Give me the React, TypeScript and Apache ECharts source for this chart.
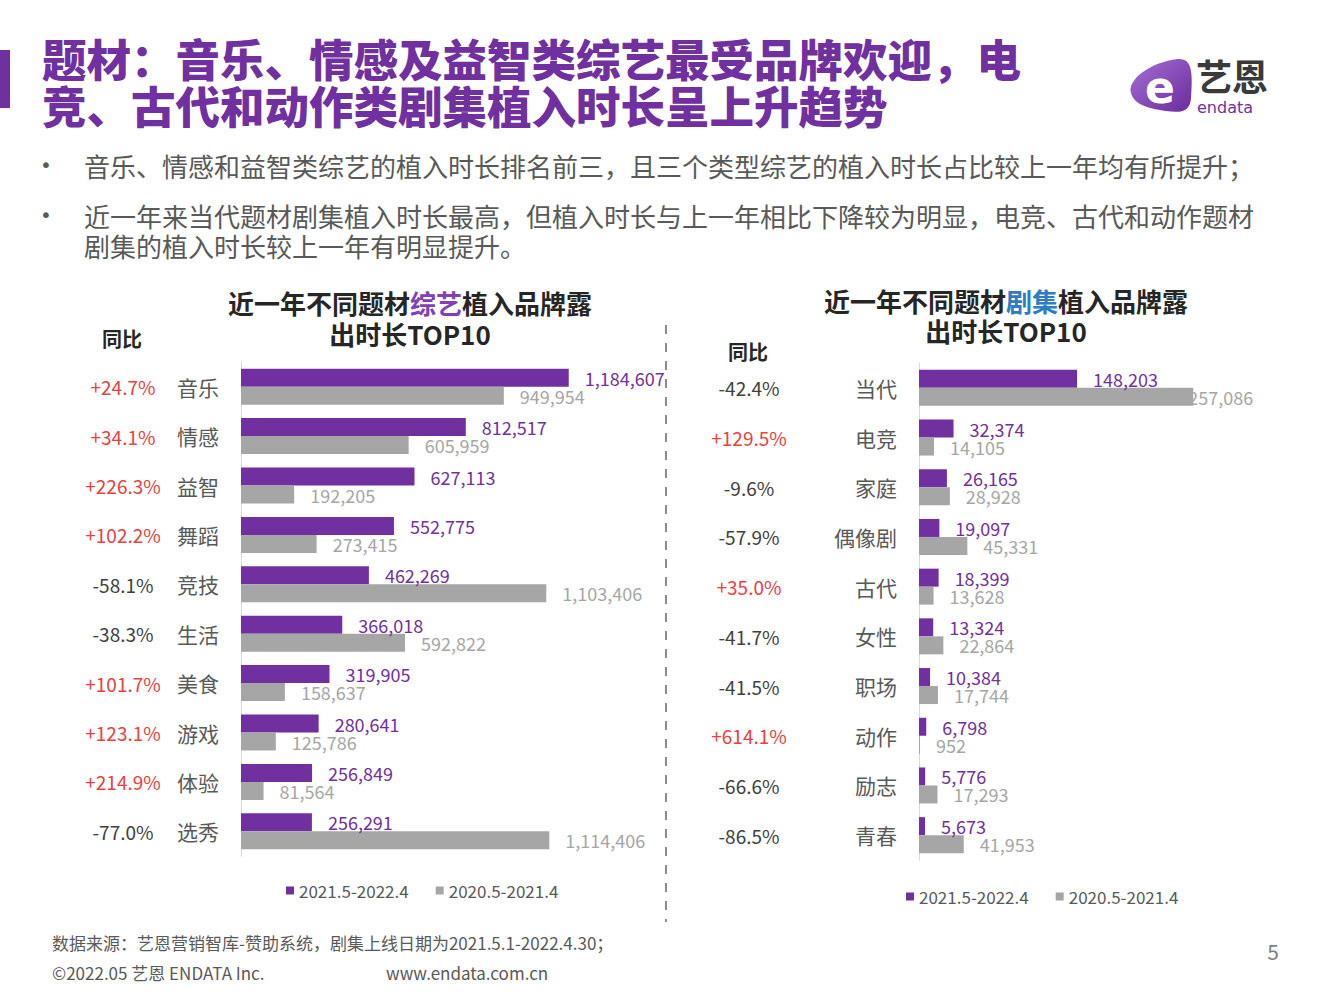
import React, { useEffect, useRef } from "react";
import * as echarts from "echarts";

const FONT = "'Noto Sans CJK SC', 'Noto Sans', sans-serif";
const PURPLE = "#7030a0";
const GRAY = "#a6a6a6";
const TEXT = "#595959";

const seriesNames = ["2021.5-2022.4", "2020.5-2021.4"];

const varietyCats = ["音乐", "情感", "益智", "舞蹈", "竞技", "生活", "美食", "游戏", "体验", "选秀"];
const varietyCur = [1184607, 812517, 627113, 552775, 462269, 366018, 319905, 280641, 256849, 256291];
const varietyPrev = [949954, 605959, 192205, 273415, 1103406, 592822, 158637, 125786, 81564, 1114406];
const varietyYoy = ["+24.7%", "+34.1%", "+226.3%", "+102.2%", "-58.1%", "-38.3%", "+101.7%", "+123.1%", "+214.9%", "-77.0%"];

const dramaCats = ["当代", "电竞", "家庭", "偶像剧", "古代", "女性", "职场", "动作", "励志", "青春"];
const dramaCur = [148203, 32374, 26165, 19097, 18399, 13324, 10384, 6798, 5776, 5673];
const dramaPrev = [257086, 14105, 28928, 45331, 13628, 22864, 17744, 952, 17293, 41953];
const dramaYoy = ["-42.4%", "+129.5%", "-9.6%", "-57.9%", "+35.0%", "-41.7%", "-41.5%", "+614.1%", "-66.6%", "-86.5%"];

const fmt = (v: number) => v.toLocaleString("en-US");

const logoPath =
  "M1131 93 C1127 80 1150 62 1178 59 C1192 58 1193 72 1191 98 C1190 112 1181 113 1166 111 C1146 108 1134 104 1131 93 Z";

export default function App() {
  const ref = useRef<HTMLDivElement>(null);
  useEffect(() => {
    if (!ref.current) return;
    echarts.graphic.registerShape("logo", echarts.graphic.extendPath(logoPath, {}));
    const chart = echarts.init(ref.current, null, { renderer: "svg" });

    const namesAxis = (gridIndex: number, data: string[]) => ({
      gridIndex,
      type: "category",
      data,
      inverse: true,
      position: "left",
      axisLine: { show: true, lineStyle: { color: "#d9d9d9", width: 1 } },
      axisTick: { show: false },
      splitLine: { show: false },
      axisLabel: { margin: 22, fontSize: 21, color: TEXT, fontFamily: FONT },
    });
    const yoyAxis = (gridIndex: number, data: string[], margin: number) => ({
      gridIndex,
      type: "category",
      data,
      inverse: true,
      position: "left",
      axisLine: { show: false },
      axisTick: { show: false },
      splitLine: { show: false },
      axisLabel: {
        margin,
        align: "center",
        formatter: (v: string) => (v.charAt(0) === "+" ? `{r|${v}}` : `{k|${v}}`),
        rich: {
          r: { color: "#e8413e", fontSize: 19, fontFamily: FONT },
          k: { color: "#404040", fontSize: 19, fontFamily: FONT },
        },
      },
    });
    const barSeries = (name: string, xi: number, yi: number, data: any[], color: string) => ({
      name,
      type: "bar",
      xAxisIndex: xi,
      yAxisIndex: yi,
      data,
      barWidth: 18,
      barGap: "0%",
      itemStyle: { color },
      label: {
        show: true,
        position: "right",
        distance: 16,
        color: color === PURPLE ? PURPLE : GRAY,
        fontSize: 18,
        lineHeight: 17,
        fontFamily: FONT,
        formatter: (p: any) => fmt(p.value),
      },
    });
    const legend = (left: number, top: number) => ({
      left,
      top,
      padding: 0,
      itemWidth: 8,
      itemHeight: 8,
      itemGap: 27,
      icon: "rect",
      selectedMode: false,
      data: seriesNames,
      textStyle: { color: TEXT, fontSize: 17, fontFamily: FONT },
    });

    const txt = (x: number, y: number, text: string, style: any) => ({
      type: "text",
      x,
      y,
      style: { text, fontFamily: FONT, textVerticalAlign: "middle", ...style },
    });

    const option: any = {
      animation: false,
      backgroundColor: "#ffffff",
      textStyle: { fontFamily: FONT },
      legend: [legend(286, 882), legend(906, 888)],
      grid: [
        { left: 241, top: 362, width: 415, height: 494 },
        { left: 919, top: 363, width: 320, height: 497 },
      ],
      xAxis: [
        { gridIndex: 0, type: "value", min: 0, max: 1500000, show: false, splitLine: { show: false } },
        { gridIndex: 1, type: "value", min: 0, max: 300000, show: false, splitLine: { show: false } },
      ],
      yAxis: [
        namesAxis(0, varietyCats),
        yoyAxis(0, varietyYoy, 118),
        namesAxis(1, dramaCats),
        yoyAxis(1, dramaYoy, 170),
      ],
      series: [
        barSeries(seriesNames[0], 0, 0, varietyCur, PURPLE),
        barSeries(seriesNames[1], 0, 0, varietyPrev, GRAY),
        barSeries(seriesNames[0], 1, 2, dramaCur, PURPLE),
        barSeries(
          seriesNames[1],
          1,
          2,
          dramaPrev.map((v, i) => (i === 0 ? { value: v, label: { distance: -5 } } : v)),
          GRAY
        ),
      ],
      graphic: [
        // left accent bar
        { type: "rect", shape: { x: 0, y: 50, width: 10, height: 58 }, style: { fill: PURPLE } },
        txt(42, 57, "题材：音乐、情感及益智类综艺最受品牌欢迎，电", {
          fontSize: 44.5, fontWeight: 900, fill: PURPLE,
        }),
        txt(42, 104, "竞、古代和动作类剧集植入时长呈上升趋势", {
          fontSize: 44.5, fontWeight: 900, fill: PURPLE,
        }),
        // logo
        {
          type: "logo",
          x: 0,
          y: 0,
          style: {
            fill: {
              type: "linear", x: 0, y: 0, x2: 1, y2: 1,
              colorStops: [
                { offset: 0, color: "#a66fd6" },
                { offset: 1, color: "#6a2c9c" },
              ],
            },
          },
        },
        txt(1160, 87, "e", {
          fontSize: 44, fontWeight: "bold", fill: "#ffffff", textAlign: "center",
          fontFamily: "'DejaVu Sans', sans-serif",
        }),
        txt(1196, 75, "艺恩", { fontSize: 36, fontWeight: "bold", fill: "#3a3a3a" }),
        txt(1197, 107, "endata", {
          fontSize: 16, fill: PURPLE, fontFamily: "'DejaVu Sans', sans-serif",
        }),
        // bullets
        txt(40, 165, "•", { fontSize: 20, fill: TEXT, fontFamily: "'DejaVu Sans', sans-serif" }),
        txt(84, 165, "音乐、情感和益智类综艺的植入时长排名前三，且三个类型综艺的植入时长占比较上一年均有所提升；", {
          fontSize: 26, fill: TEXT,
        }),
        txt(40, 215, "•", { fontSize: 20, fill: TEXT, fontFamily: "'DejaVu Sans', sans-serif" }),
        txt(84, 215, "近一年来当代题材剧集植入时长最高，但植入时长与上一年相比下降较为明显，电竞、古代和动作题材", {
          fontSize: 26, fill: TEXT,
        }),
        txt(84, 245, "剧集的植入时长较上一年有明显提升。", { fontSize: 26, fill: TEXT }),
        // chart titles
        {
          type: "text",
          x: 410,
          y: 302,
          style: {
            text: "{b|近一年不同题材}{p|综艺}{b|植入品牌露}",
            textAlign: "center",
            textVerticalAlign: "middle",
            rich: {
              b: { fontSize: 26, fontWeight: "bold", fill: "#262626", fontFamily: FONT },
              p: { fontSize: 26, fontWeight: "bold", fill: "#8040b8", fontFamily: FONT },
            },
          },
        },
        txt(410, 333, "出时长TOP10", { fontSize: 26, fontWeight: "bold", fill: "#262626", textAlign: "center" }),
        {
          type: "text",
          x: 1006,
          y: 300,
          style: {
            text: "{b|近一年不同题材}{p|剧集}{b|植入品牌露}",
            textAlign: "center",
            textVerticalAlign: "middle",
            rich: {
              b: { fontSize: 26, fontWeight: "bold", fill: "#262626", fontFamily: FONT },
              p: { fontSize: 26, fontWeight: "bold", fill: "#2e7cc4", fontFamily: FONT },
            },
          },
        },
        txt(1006, 330, "出时长TOP10", { fontSize: 26, fontWeight: "bold", fill: "#262626", textAlign: "center" }),
        txt(122, 338, "同比", { fontSize: 20, fontWeight: "bold", fill: "#262626", textAlign: "center" }),
        txt(748, 351, "同比", { fontSize: 20, fontWeight: "bold", fill: "#262626", textAlign: "center" }),
        // divider
        {
          type: "line",
          shape: { x1: 666, y1: 325, x2: 666, y2: 922 },
          style: { stroke: "#8c8c8c", lineWidth: 2, lineDash: [9, 9] },
        },
        // footer
        txt(52, 942, "数据来源：艺恩营销智库-赞助系统，剧集上线日期为2021.5.1-2022.4.30；", {
          fontSize: 17, fill: TEXT,
        }),
        txt(52, 972, "©2022.05 艺恩 ENDATA Inc.", { fontSize: 17, fill: TEXT }),
        txt(386, 972, "www.endata.com.cn", { fontSize: 17, fill: TEXT }),
        txt(1273, 951, "5", { fontSize: 21, fill: "#7f7f7f", textAlign: "center" }),
      ],
    };
    chart.setOption(option);
    return () => chart.dispose();
  }, []);
  return (
    <div
      ref={ref}
      style={{ position: "absolute", left: 0, top: 0, width: 1333, height: 1000, background: "#fff" }}
    />
  );
}
